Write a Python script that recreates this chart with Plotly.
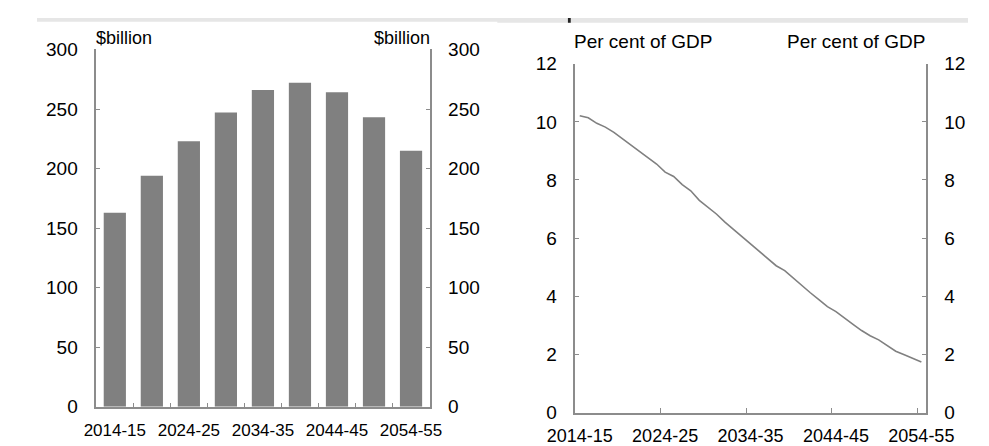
import plotly.graph_objects as go

W, H = 989, 446

# ---- data ----
bar_years = ["2014-15", "2019-20", "2024-25", "2029-30", "2034-35",
             "2039-40", "2044-45", "2049-50", "2054-55"]
bar_values = [163, 194, 223, 247, 266, 272, 264, 243, 215]

line_years = [f"{y}-{str(y + 1)[-2:]}" for y in range(2014, 2055)]
line_values = [10.21, 10.14, 9.95, 9.82, 9.64, 9.42, 9.22, 9.00, 8.76, 8.55,
               8.27, 8.12, 7.84, 7.63, 7.30, 7.07, 6.83, 6.55, 6.30, 6.06,
               5.82, 5.58, 5.31, 5.05, 4.88, 4.62, 4.36, 4.12, 3.88, 3.64,
               3.47, 3.24, 3.03, 2.82, 2.64, 2.50, 2.30, 2.11, 1.99, 1.86, 1.74]

left_yticks = [0, 50, 100, 150, 200, 250, 300]
right_yticks = [0, 2, 4, 6, 8, 10, 12]
left_xlabels = ["2014-15", "2024-25", "2034-35", "2044-45", "2054-55"]
right_xlabels = ["2014-15", "2024-25", "2034-35", "2044-45", "2054-55"]

GREY = "#808080"
AX = "#8c8c8c"
FONT = "Liberation Sans, Arial, sans-serif"


def px_x(p):
    return p / W


def px_y(p):
    return 1 - p / H


bx = list(range(len(bar_years)))
lx = list(range(len(line_years)))

fig = go.Figure()
fig.add_trace(go.Bar(x=bx, y=bar_values, marker=dict(color=GREY, line=dict(width=0)),
                     xaxis="x", yaxis="y", showlegend=False))
fig.add_trace(go.Scatter(x=lx, y=line_values, mode="lines",
                         line=dict(color=GREY, width=1.6),
                         xaxis="x2", yaxis="y2", showlegend=False))

ytick_font = dict(family=FONT, size=19, color="black")

left_dom_x = [px_x(63), px_x(417)]
left_dom_y = [px_y(408), px_y(33)]
right_dom_x = [px_x(572), px_x(944)]
right_dom_y = [px_y(414), px_y(48)]

common_y = dict(showgrid=False, zeroline=False, showline=True, linecolor=AX, linewidth=1.5,
                ticks="inside", ticklen=4, tickcolor=AX, tickwidth=1, tickfont=ytick_font,
                ticklabelstandoff=13)

fig.update_layout(
    width=W, height=H,
    margin=dict(l=0, r=0, t=0, b=0),
    paper_bgcolor="white", plot_bgcolor="white",
    bargap=0.4,
    xaxis=dict(domain=left_dom_x, anchor="y", range=[-0.5, len(bar_years) - 0.5],
               showgrid=False, zeroline=False, showline=True, linecolor=AX, linewidth=1.5,
               tickvals=[bar_years.index(l) for l in left_xlabels], ticktext=left_xlabels,
               ticks="", tickfont=dict(family=FONT, size=17, color="black"),
               ticklabelstandoff=7,
               minor=dict(tickvals=[i + 0.5 for i in range(len(bar_years) - 1)],
                          ticks="inside", ticklen=4, tickcolor=AX, tickwidth=1)),
    yaxis=dict(domain=left_dom_y, anchor="x", range=[0, 300], tickvals=left_yticks, **common_y),
    yaxis3=dict(overlaying="y", anchor="x", side="right", range=[0, 300],
                tickvals=left_yticks, **common_y),
    xaxis2=dict(domain=right_dom_x, anchor="y2", range=[-0.5, len(line_years) - 0.5],
                showgrid=False, zeroline=False, showline=True, linecolor=AX, linewidth=1.5,
                tickvals=[line_years.index(l) for l in right_xlabels], ticktext=right_xlabels,
                ticks="", tickfont=dict(family=FONT, size=18, color="black"),
                ticklabelstandoff=6,
                minor=dict(tickvals=[line_years.index(l) + 9.5 for l in right_xlabels[:-1]],
                           ticks="inside", ticklen=5, tickcolor=AX, tickwidth=1)),
    yaxis2=dict(domain=right_dom_y, anchor="x2", range=[0, 12], tickvals=right_yticks, **common_y),
    yaxis4=dict(overlaying="y2", anchor="x2", side="right", range=[0, 12],
                tickvals=right_yticks, **common_y),
)

# dummy traces so the right-hand axes render
fig.add_trace(go.Scatter(x=[None], y=[None], xaxis="x", yaxis="y3", showlegend=False, hoverinfo="skip"))
fig.add_trace(go.Scatter(x=[None], y=[None], xaxis="x2", yaxis="y4", showlegend=False, hoverinfo="skip"))

ann_font = dict(family=FONT, size=18, color="black")
fig.add_annotation(text="$billion", x=px_x(61), y=px_y(21), xref="paper", yref="paper",
                   xanchor="left", yanchor="middle", showarrow=False, font=ann_font)
fig.add_annotation(text="$billion", x=px_x(420), y=px_y(21), xref="paper", yref="paper",
                   xanchor="right", yanchor="middle", showarrow=False, font=ann_font)
fig.add_annotation(text="Per cent of GDP", x=px_x(568), y=px_y(25), xref="paper", yref="paper",
                   xanchor="left", yanchor="middle", showarrow=False,
                   font=dict(family=FONT, size=19, color="black"))
fig.add_annotation(text="Per cent of GDP", x=px_x(945), y=px_y(25), xref="paper", yref="paper",
                   xanchor="right", yanchor="middle", showarrow=False,
                   font=dict(family=FONT, size=19, color="black"))

# top strip (cropped title band)
fig.add_shape(type="rect", xref="paper", yref="paper", x0=0, x1=1, y0=px_y(4), y1=1,
              fillcolor="#e6e6e6", line=dict(width=0), layer="above")
fig.add_shape(type="rect", xref="paper", yref="paper", x0=px_x(489), x1=1, y0=px_y(5), y1=1,
              fillcolor="#e6e6e6", line=dict(width=0), layer="above")
fig.add_shape(type="rect", xref="paper", yref="paper", x0=px_x(564), x1=px_x(567), y0=px_y(5), y1=1,
              fillcolor="#222222", line=dict(width=0), layer="above")

fig.write_html("out.html")
